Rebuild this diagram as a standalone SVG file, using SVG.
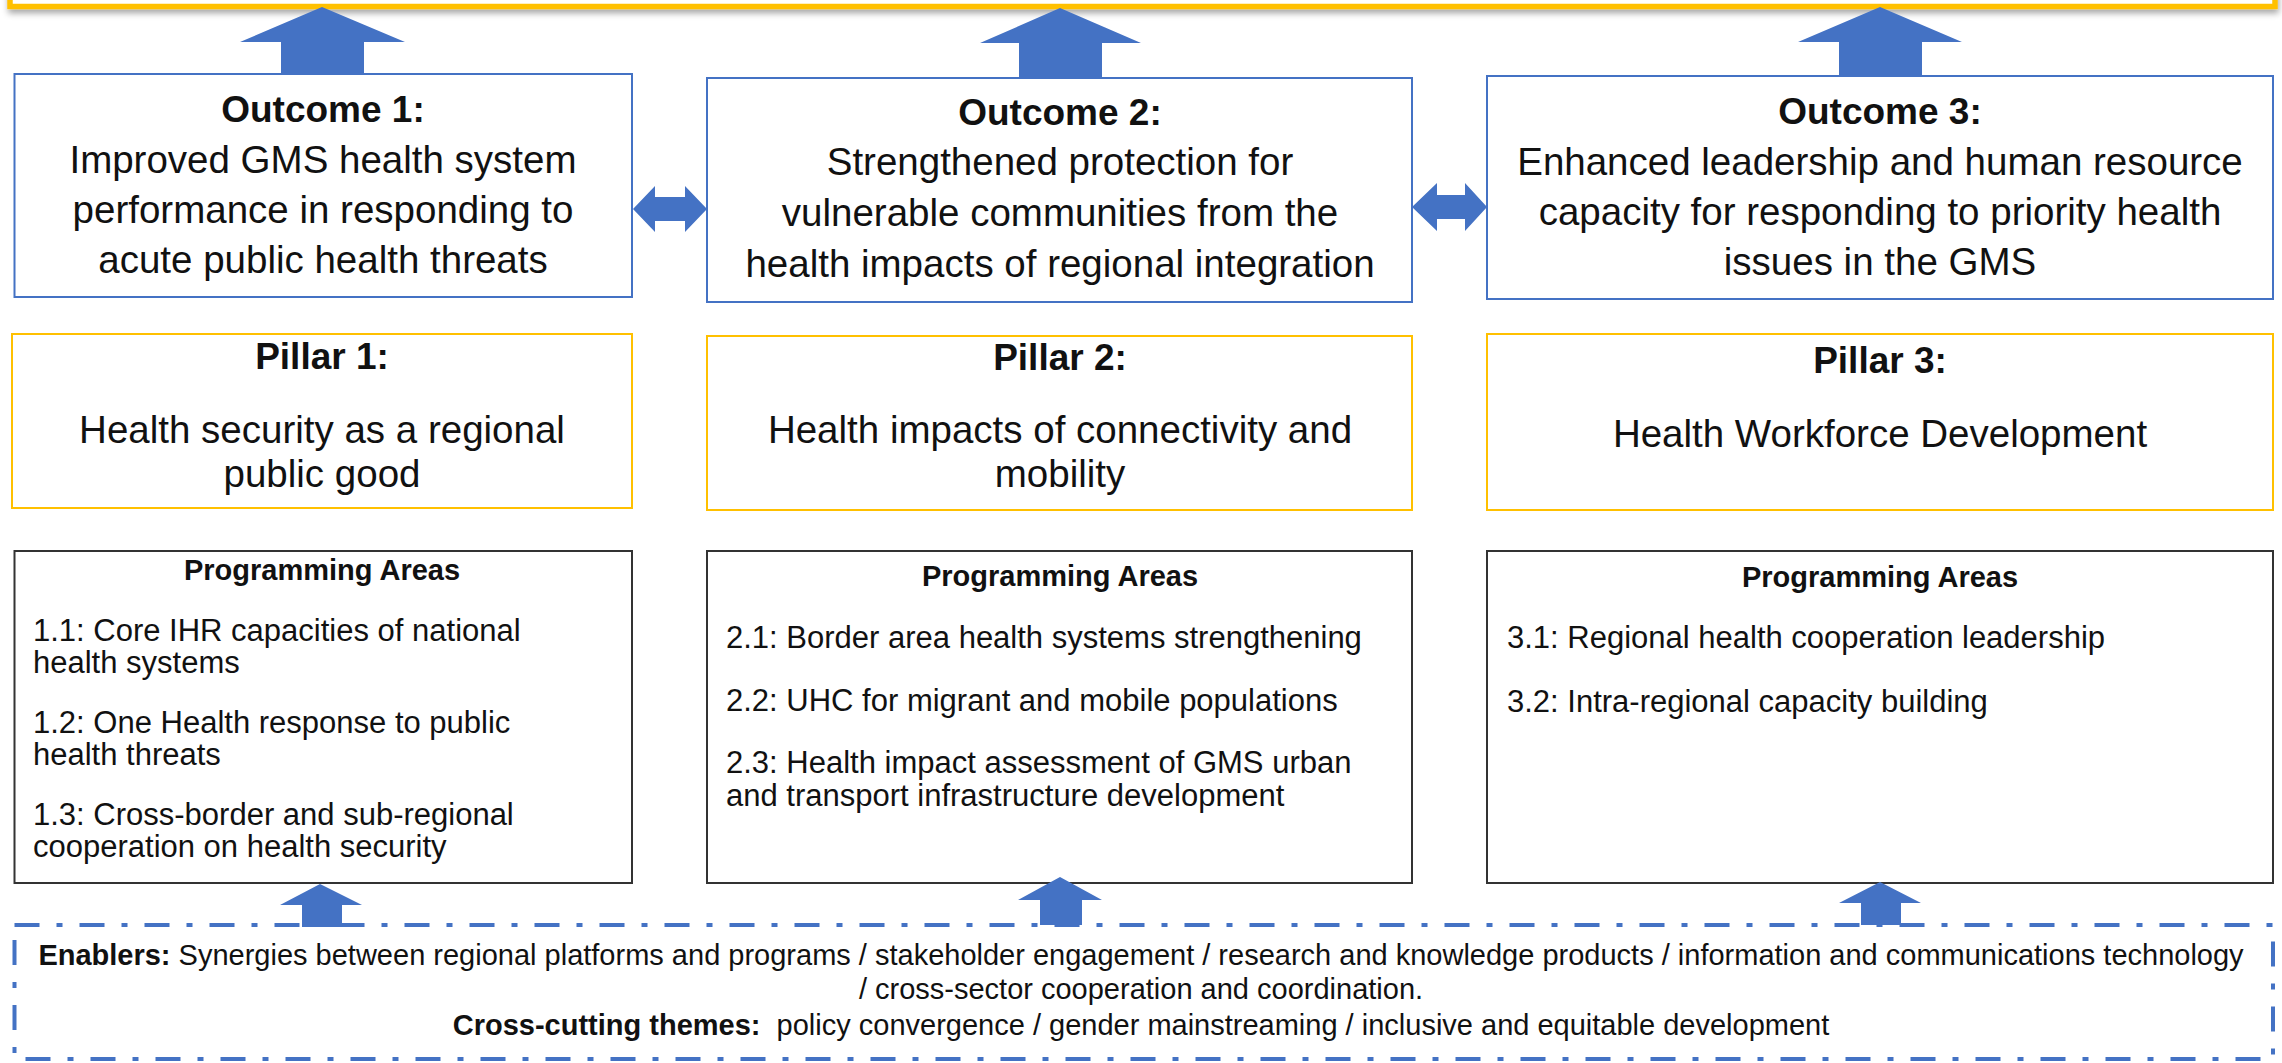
<svg xmlns="http://www.w3.org/2000/svg" width="2282" height="1063" viewBox="0 0 2282 1063">
<style>
  text { font-family: "Liberation Sans", Arial, sans-serif; fill: #111; }
  .c { text-anchor: middle; }
  .title { font-weight: bold; font-size: 37px; }
  .body { font-size: 38.5px; }
  .ph { font-weight: bold; font-size: 29px; }
  .pb { font-size: 31px; }
  .en { font-size: 29px; }
  .b { font-weight: bold; }
  .outcome { fill: #fff; stroke: #4472C4; stroke-width: 2; }
  .pillar { fill: #fff; stroke: #FFC000; stroke-width: 2; }
  .prog { fill: #fff; stroke: #333; stroke-width: 2; }
  .arr { fill: #4472C4; }
</style>
<defs>
  <filter id="shadow" x="-5%" y="-50%" width="110%" height="200%">
    <feDropShadow dx="1" dy="4" stdDeviation="3" flood-color="#000" flood-opacity="0.35"/>
  </filter>
</defs>
<rect width="2282" height="1063" fill="#fff"/>

<g id="goal-box">
  <rect x="10" y="-40" width="2265" height="46.5" fill="#fff" stroke="#FFC000" stroke-width="5.5" filter="url(#shadow)"/>
</g>

<g id="outcome-1">
  <rect class="outcome" x="14.5" y="74" width="617.5" height="223"/>
  <text class="title c" x="323" y="122">Outcome 1:</text>
  <text class="body c" x="323" y="173">Improved GMS health system</text>
  <text class="body c" x="323" y="223">performance in responding to</text>
  <text class="body c" x="323" y="273">acute public health threats</text>
</g>
<g id="outcome-2">
  <rect class="outcome" x="707" y="78" width="705" height="224"/>
  <text class="title c" x="1060" y="125">Outcome 2:</text>
  <text class="body c" x="1060" y="175">Strengthened protection for</text>
  <text class="body c" x="1060" y="226">vulnerable communities from the</text>
  <text class="body c" x="1060" y="277">health impacts of regional integration</text>
</g>
<g id="outcome-3">
  <rect class="outcome" x="1487" y="76" width="786" height="223"/>
  <text class="title c" x="1880" y="124">Outcome 3:</text>
  <text class="body c" x="1880" y="175">Enhanced leadership and human resource</text>
  <text class="body c" x="1880" y="225">capacity for responding to priority health</text>
  <text class="body c" x="1880" y="275">issues in the GMS</text>
</g>

<g id="pillar-1">
  <rect class="pillar" x="12" y="334" width="620" height="174"/>
  <text class="title c" x="322" y="369">Pillar 1:</text>
  <text class="body c" x="322" y="443">Health security as a regional</text>
  <text class="body c" x="322" y="487">public good</text>
</g>
<g id="pillar-2">
  <rect class="pillar" x="707" y="336" width="705" height="174"/>
  <text class="title c" x="1060" y="370">Pillar 2:</text>
  <text class="body c" x="1060" y="443">Health impacts of connectivity and</text>
  <text class="body c" x="1060" y="487">mobility</text>
</g>
<g id="pillar-3">
  <rect class="pillar" x="1487" y="334" width="786" height="176"/>
  <text class="title c" x="1880" y="373">Pillar 3:</text>
  <text class="body c" x="1880" y="447">Health Workforce Development</text>
</g>

<g id="programming-1">
  <rect class="prog" x="14.5" y="551" width="617.5" height="332"/>
  <text class="ph c" x="322" y="580">Programming Areas</text>
  <text class="pb" x="33" y="641">1.1: Core IHR capacities of national</text>
  <text class="pb" x="33" y="673">health systems</text>
  <text class="pb" x="33" y="733">1.2: One Health response to public</text>
  <text class="pb" x="33" y="765">health threats</text>
  <text class="pb" x="33" y="825">1.3: Cross-border and sub-regional</text>
  <text class="pb" x="33" y="857">cooperation on health security</text>
</g>
<g id="programming-2">
  <rect class="prog" x="707" y="551" width="705" height="332"/>
  <text class="ph c" x="1060" y="586">Programming Areas</text>
  <text class="pb" x="726" y="648">2.1: Border area health systems strengthening</text>
  <text class="pb" x="726" y="711">2.2: UHC for migrant and mobile populations</text>
  <text class="pb" x="726" y="773">2.3: Health impact assessment of GMS urban</text>
  <text class="pb" x="726" y="806">and transport infrastructure development</text>
</g>
<g id="programming-3">
  <rect class="prog" x="1487" y="551" width="786" height="332"/>
  <text class="ph c" x="1880" y="587">Programming Areas</text>
  <text class="pb" x="1507" y="648">3.1: Regional health cooperation leadership</text>
  <text class="pb" x="1507" y="712">3.2: Intra-regional capacity building</text>
</g>

<g id="enablers">
  <rect x="14.5" y="925" width="2258.5" height="134" fill="#fff" stroke="#4472C4" stroke-width="4" stroke-dasharray="25 17 6 17"/>
  <text class="en c" x="1141" y="965"><tspan class="b">Enablers:</tspan> Synergies between regional platforms and programs / stakeholder engagement / research and knowledge products / information and communications technology</text>
  <text class="en c" x="1141" y="999">/ cross-sector cooperation and coordination.</text>
  <text class="en c" x="1141" y="1035" xml:space="preserve"><tspan class="b">Cross-cutting themes:</tspan>  policy convergence / gender mainstreaming / inclusive and equitable development</text>
</g>

<g id="connectors">
  <polygon class="arr" points="322,7 405,42 364,42 364,75 281,75 281,42 240,42"/>
  <polygon class="arr" points="1060,8 1141,43 1102,43 1102,79 1019,79 1019,43 980,43"/>
  <polygon class="arr" points="1880,7 1962,42 1922,42 1922,77 1839,77 1839,42 1798,42"/>
  <polygon class="arr" points="633,209 655,186 655,197 685,197 685,186 707,209 685,232 685,221 655,221 655,232"/>
  <polygon class="arr" points="1412,207 1437,183 1437,195 1465,195 1465,183 1487,207 1465,231 1465,219 1437,219 1437,231"/>
  <polygon class="arr" points="320,884 362,905 342,905 342,927 302,927 302,905 280,905"/>
  <polygon class="arr" points="1060,877 1102,900 1082,900 1082,925 1040,925 1040,900 1018,900"/>
  <polygon class="arr" points="1880,882 1921,903 1901,903 1901,925 1861,925 1861,903 1839,903"/>
</g>
</svg>
